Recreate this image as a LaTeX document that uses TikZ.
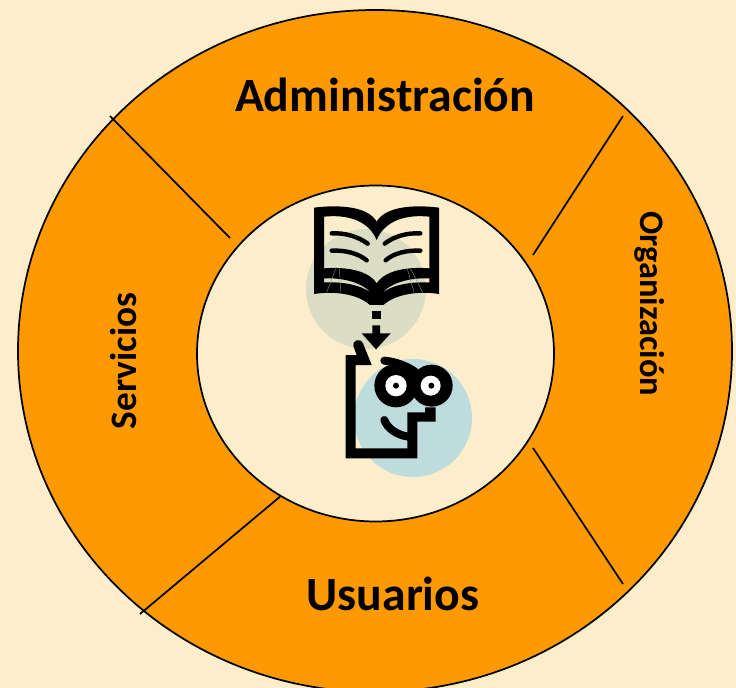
\documentclass[tikz,border=0pt]{standalone}
\usepackage{fontspec}
\setmainfont{Carlito}
\definecolor{bgc}{HTML}{FCEECA}
\definecolor{ringc}{HTML}{FF9900}
\definecolor{greenc}{HTML}{DBDDC4}
\definecolor{bluec}{HTML}{BEDCDD}
\tikzset{
  seg/.style={draw=black,line width=1.3pt},
  bigt/.style={font=\bfseries\fontsize{35.8}{40}\selectfont,inner sep=0pt},
  sert/.style={font=\bfseries\fontsize{28}{32}\selectfont,inner sep=0pt},
  orgt/.style={font=\bfseries\fontsize{25.8}{30}\selectfont,inner sep=0pt},
  zoomA/.style={shift={(290,195)},x=0.25pt,y=-0.25pt},
  zoomB/.style={shift={(330,320)},x=0.25pt,y=-0.25pt}
}
\begin{document}
\begin{tikzpicture}[x=0.75pt,y=-0.75pt]
\useasboundingbox (0,0) rectangle (736,688);
\fill[bgc] (0,0) rectangle (736,688);
\begin{scope}
\clip (0,0) rectangle (736,688);
\draw[fill=ringc,line width=1.3pt] (375,351) ellipse [x radius=357,y radius=341];
\end{scope}
\draw[seg] (110,116) -- (230,238);
\draw[seg] (623,116) -- (533,255);
\draw[seg] (533,448) -- (623,584);
\draw[seg] (282,495) -- (140,614);
\draw[fill=bgc,line width=1.3pt] (375.5,353.5) ellipse [x radius=178.5,y radius=168];
\fill[greenc] (366,289) circle (60);
\fill[bluec] (413,418) circle (59);
% book
\begin{scope}[zoomA]
\fill[black,even odd rule]
 (72,38) .. controls (150,28) and (235,35) .. (260,80)
 .. controls (285,35) and (370,28) .. (447,38)
 -- (447,297) .. controls (390,288) and (320,295) .. (280,330)
 -- (240,330) .. controls (200,295) and (130,288) .. (72,297) -- cycle
 (102,65) -- (102,220) .. controls (165,215) and (235,225) .. (260,265)
 .. controls (285,225) and (355,215) .. (418,220) -- (418,65)
 .. controls (350,58) and (285,75) .. (260,135)
 .. controls (235,75) and (170,58) .. (102,65) -- cycle
 (102,250) -- (102,262) .. controls (160,260) and (215,270) .. (245,295)
 .. controls (215,262) and (160,248) .. (102,250) -- cycle
 (418,250) -- (418,262) .. controls (360,260) and (305,270) .. (275,295)
 .. controls (305,262) and (360,248) .. (418,250) -- cycle;
\begin{scope}[line width=3.3pt,line cap=round]
\draw (125,115) .. controls (165,113) and (205,125) .. (233,146);
\draw (125,167) .. controls (165,165) and (205,175) .. (230,196);
\draw (391,115) .. controls (350,113) and (310,125) .. (284,146);
\draw (391,167) .. controls (350,165) and (310,175) .. (287,196);
\end{scope}
\fill (246,348) rectangle (272,373);
\draw[black!45,line width=0.3pt] (137,222) -- (110,292) (148,222) -- (153,292) (352,222) -- (372,292) (362,222) -- (398,292);
\end{scope}
% arrow and face
\begin{scope}[zoomB]
\fill (127,16) -- (150,16) -- (150,40) -- (182,40) -- (138,88) -- (95,40) -- (127,40) -- cycle;
\fill (47,105) -- (80,105) -- (70,78)
 .. controls (66,62) and (90,52) .. (99,70)
 -- (125,135) -- (77,135) -- (77,385) -- (232,385) -- (232,277) -- (285,277) -- (285,262) -- (317,262) -- (317,305) -- (262,305) -- (262,415) -- (47,415) -- cycle;
\fill (198,197) circle [radius=65*0.25pt];
\fill (305,197) circle [radius=63*0.25pt];
\fill[white] (198,197) circle [radius=32*0.25pt];
\fill[white] (302,197) circle [radius=30*0.25pt];
\fill (198,197) circle [radius=9*0.25pt];
\fill (304,197) circle [radius=9*0.25pt];
\draw[line width=6pt,line cap=round] (163,122) .. controls (195,125) and (225,135) .. (255,155);
\draw[line width=6pt,line cap=round] (163,300) .. controls (172,325) and (200,345) .. (235,350);
\end{scope}
\node[bigt] (adm) at (385,95) {Administración};
\node[bigt] (usu) at (393,594) {Usuarios};
\node[sert,rotate=90] (ser) at (124,361) {Servicios};
\node[orgt,rotate=-90] (org) at (650,304) {Organización};
\end{tikzpicture}
\end{document}
